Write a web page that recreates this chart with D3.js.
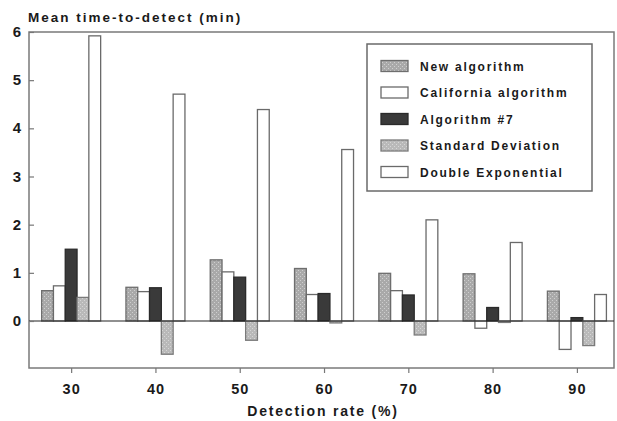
<!DOCTYPE html>
<html><head><meta charset="utf-8">
<script src="https://cdn.jsdelivr.net/npm/d3@7"></script>
<style>
body{margin:0;background:#fff;}
text{font-family:"Liberation Sans",Arial,Helvetica,sans-serif;font-weight:bold;fill:#1a1a1a;}
</style></head>
<body><svg id="c" width="617" height="421"></svg>
<script>
const categories = [30, 40, 50, 60, 70, 80, 90];
const seriesNames = ["New algorithm", "California algorithm", "Algorithm #7", "Standard Deviation", "Double Exponential"];
const newAlgorithm   = [0.63, 0.70, 1.27, 1.09, 0.99, 0.98, 0.62];
const california     = [0.73, 0.61, 1.02, 0.55, 0.63, -0.15, -0.59];
const algorithm7     = [1.49, 0.69, 0.91, 0.57, 0.54, 0.28, 0.07];
const stdDeviation   = [0.49, -0.69, -0.40, -0.04, -0.29, -0.03, -0.51];
const doubleExp      = [5.92, 4.71, 4.39, 3.56, 2.10, 1.63, 0.55];
const yTicks = [0, 1, 2, 3, 4, 5, 6];

const series = [newAlgorithm, california, algorithm7, stdDeviation, doubleExp];
const strokes = ["#6e6e6e", "#6a6a6a", "#2a2a2a", "#7a7a7a", "#6a6a6a"];

const svg = d3.select("#c");
const pLeft = 29, pRight = 614, pTop = 32, pBottom = 368;
const x = d3.scaleLinear().domain([25, 94.4]).range([pLeft, pRight]);
const y = d3.scaleLinear().domain([0, 6]).range([321, pTop]);
const bw = x(31.4) - x(30);

// stipple patterns
const defs = svg.append("defs");
function stipple(id, base, dot){
  const p = defs.append("pattern").attr("id", id).attr("width", 4).attr("height", 4).attr("patternUnits", "userSpaceOnUse");
  p.append("rect").attr("width", 4).attr("height", 4).attr("fill", base);
  p.append("rect").attr("x", 0).attr("y", 0).attr("width", 1).attr("height", 1).attr("fill", dot);
  p.append("rect").attr("x", 2).attr("y", 2).attr("width", 1).attr("height", 1).attr("fill", dot);
}
stipple("pNew", "#a9a9a9", "#cfcfcf");
stipple("pSD", "#b9b9b9", "#d6d6d6");
const fillRef = ["url(#pNew)", "#ffffff", "#3a3a3a", "url(#pSD)", "#ffffff"];

// frame
svg.append("rect").attr("x", pLeft).attr("y", pTop).attr("width", pRight - pLeft).attr("height", pBottom - pTop)
  .attr("fill", "none").attr("stroke", "#7a7a7a").attr("stroke-width", 1.5);

// bars
series.forEach((vals, si) => {
  svg.append("g").selectAll("rect").data(vals).join("rect")
    .attr("x", (d, i) => x(categories[i]) + (si - 2.5) * bw)
    .attr("y", d => y(Math.max(0, d)))
    .attr("width", bw)
    .attr("height", d => Math.abs(y(d) - y(0)))
    .attr("fill", fillRef[si]).attr("stroke", strokes[si]).attr("stroke-width", 1.3);
});

// zero line
svg.append("line").attr("x1", pLeft).attr("x2", pRight).attr("y1", y(0)).attr("y2", y(0))
  .attr("stroke", "#222").attr("stroke-width", 1.2);

// y axis
const yAxis = d3.axisRight(y).tickValues(yTicks).tickSize(5).tickFormat("");
const gy = svg.append("g").attr("transform", `translate(${pLeft},0)`).call(yAxis);
gy.select(".domain").remove();
gy.selectAll("line").attr("stroke", "#777").attr("stroke-width", 1.2);
svg.append("g").selectAll("text").data(yTicks).join("text")
  .attr("x", 17).attr("y", d => y(d) + 5).attr("text-anchor", "middle")
  .attr("font-size", 15).text(d => d);

// x axis
const xAxis = d3.axisBottom(x).tickValues(categories).tickSize(5).tickFormat(d => d);
const gx = svg.append("g").attr("transform", `translate(0,${pBottom})`).call(xAxis);
gx.select(".domain").remove();
gx.selectAll("line").attr("stroke", "#777").attr("stroke-width", 1.2);
gx.selectAll("text").attr("font-size", 14.5).attr("dy", "1.25em").attr("letter-spacing", 1)
  .style("font-family", "'Liberation Sans',Arial,sans-serif").style("font-weight", "bold").attr("fill", "#1a1a1a");

// titles
svg.append("text").attr("x", 28).attr("y", 22).attr("font-size", 13.5).attr("letter-spacing", 2)
  .text("Mean time-to-detect (min)");
svg.append("text").attr("x", 323).attr("y", 416).attr("text-anchor", "middle").attr("font-size", 14)
  .attr("letter-spacing", 1.8).text("Detection rate (%)");

// legend
const lg = svg.append("g");
lg.append("rect").attr("x", 367).attr("y", 44).attr("width", 225).attr("height", 147)
  .attr("fill", "#fff").attr("stroke", "#6a6a6a").attr("stroke-width", 1.5);
seriesNames.forEach((name, i) => {
  const cy = 66 + i * 26.5;
  lg.append("rect").attr("x", 381).attr("y", cy - 5.5).attr("width", 27).attr("height", 11)
    .attr("fill", fillRef[i]).attr("stroke", strokes[i]).attr("stroke-width", 1.3);
  lg.append("text").attr("x", 420).attr("y", cy + 4.5).attr("font-size", 12).attr("letter-spacing", 1.75)
    .text(name);
});
</script></body></html>
